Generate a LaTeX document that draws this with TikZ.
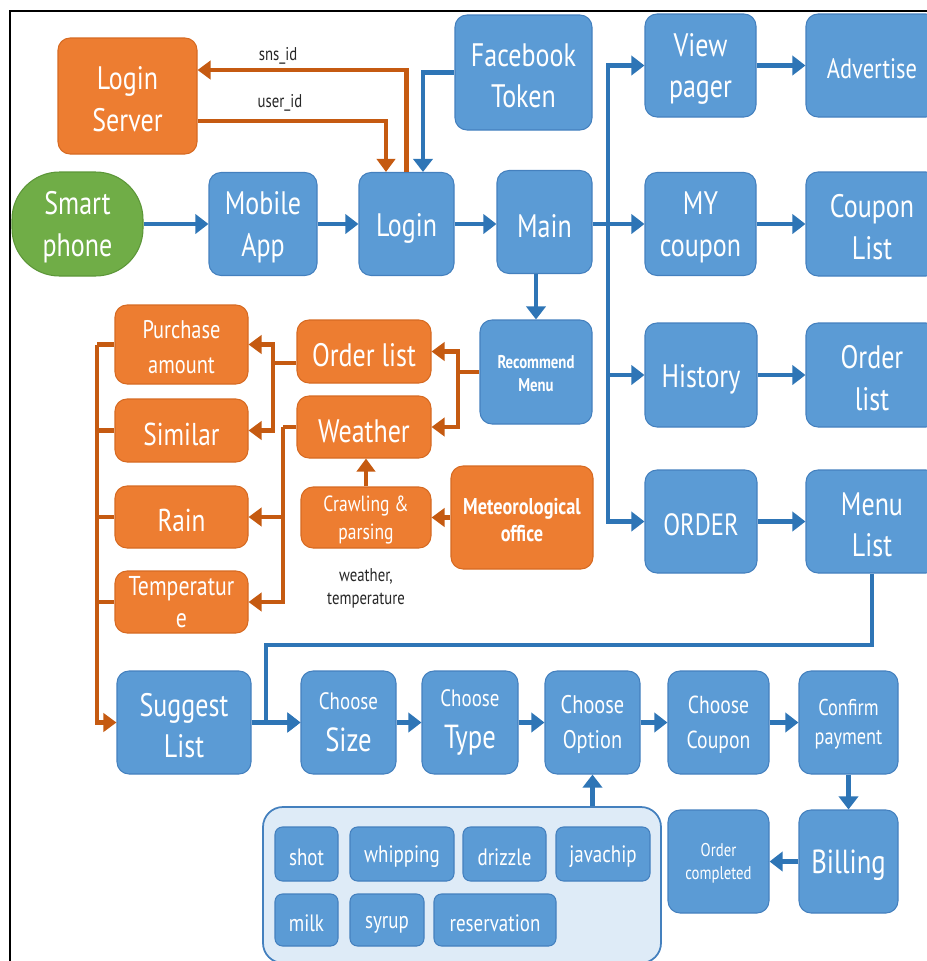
\documentclass[tikz,border=0pt]{standalone}
\usepackage{fontspec}
\setmainfont{PT Sans}[FakeStretch=0.8]
\usepackage{tikz}
\usetikzlibrary{arrows.meta}
\definecolor{boxblue}{RGB}{91,155,213}
\definecolor{edgeblue}{RGB}{68,128,190}
\definecolor{arrowblue}{RGB}{46,117,182}
\definecolor{boxorange}{RGB}{237,125,49}
\definecolor{edgeorange}{RGB}{214,106,34}
\definecolor{arroworange}{RGB}{197,90,17}
\definecolor{boxgreen}{RGB}{112,173,71}
\definecolor{edgegreen}{RGB}{92,150,56}
\definecolor{panel}{RGB}{222,235,247}

\newcommand{\fsL}{\fontsize{18.5}{23.5}\selectfont}
\newcommand{\fsM}{\fontsize{14.5}{20}\selectfont}
\newcommand{\fsS}{\fontsize{12.5}{16}\selectfont}
\newcommand{\fsT}{\fontsize{10.5}{13}\selectfont}

\begin{document}
\begin{tikzpicture}[x=0.02cm, y=-0.02cm,
    sz/.style 2 args={minimum width=#1*0.02cm, minimum height=#2*0.02cm},
    box/.style={rounded corners=0.24cm, draw=edgeblue, line width=0.6pt, fill=boxblue,
        text=white, align=center, inner sep=0pt, font=\fsL,
        execute at begin node={\rule{0pt}{0.95em}}},
    twoline/.style={execute at begin node={\rule{0pt}{\dimexpr0.9em+\baselineskip\relax}}},
    orangebox/.style={box, draw=edgeorange, fill=boxorange},
    chip/.style={box, rounded corners=0.15cm, font=\fontsize{13.5}{16}\selectfont},
    lbl/.style={align=center, font=\fsT, text=black!85},
    bline/.style={draw=arrowblue, line width=2.8pt},
    oline/.style={draw=arroworange, line width=2.5pt},
    barrow/.style={bline, -{Triangle[length=7.5pt, width=11pt]}},
    oarrow/.style={oline, -{Triangle[length=7.5pt, width=10.5pt]}}
]
    \clip (0,0) rectangle (927,961);
    \draw[line width=1.6pt] (10,980) -- (10,11) -- (950,11);

    % login part
    \node[orangebox, twoline, sz={139}{116}] (lserver) at (127.5,96) {Login\\Server};
    \node[box, twoline, draw=edgegreen, fill=boxgreen, rounded corners=0.95cm, sz={131}{104}] (phone) at (77.5,224) {Smart\\phone};
    \node[box, twoline, sz={108}{103}] (mobile) at (263,224) {Mobile\\App};
    \node[box, sz={95}{103}] (login) at (406.5,224) {Login};
    \node[box, twoline, sz={137}{115}] (fb) at (523.5,72.5) {Facebook\\Token};
    \node[box, sz={95}{103}] (main) at (544.5,222) {Main};

    % main menu
    \node[box, twoline, sz={111}{103}] (view) at (700.5,65.5) {View\\pager};
    \node[box, sz={132}{103}, font=\fontsize{16}{20}\selectfont] (adv) at (872,65.5) {Advertise};
    \node[box, twoline, sz={111}{103}] (mycoupon) at (700.5,224) {MY\\coupon};
    \node[box, twoline, sz={132}{104}] (clist) at (872,224) {Coupon\\List};
    \node[box, sz={112}{104}] (history) at (701,375) {History};
    \node[box, twoline, sz={132}{104}] (olistr) at (872,375) {Order\\list};
    \node[box, sz={112}{103}, font=\fontsize{17.5}{22}\selectfont] (order) at (701,521.5) {ORDER};
    \node[box, twoline, sz={132}{103}] (menulist) at (872,521.5) {Menu\\List};

    % recommendation
    \node[box, twoline, sz={112}{104}, font=\fsT\bfseries] (recmenu) at (536,372) {Recommend\\Menu};
    \node[orangebox, sz={134}{63}] (olist) at (364,351.5) {Order list};
    \node[orangebox, sz={134}{62}] (weather) at (364,427) {Weather};
    \node[orangebox, twoline, sz={130}{61}, font=\fsS] (crawl) at (366,517.5) {Crawling \&\\parsing};
    \node[orangebox, twoline, sz={142}{103}, font=\fontsize{13}{15.5}\selectfont\bfseries] (meteo) at (522,517.5) {Meteorological\\office};
    \node[orangebox, twoline, sz={133}{79}, font=\fsM] (purchase) at (181.5,344.5) {Purchase\\amount};
    \node[orangebox, sz={133}{63}, font=\fontsize{18}{22}\selectfont] (similar) at (181.5,430.5) {Similar};
    \node[orangebox, sz={133}{62}, font=\fontsize{18}{22}\selectfont] (rain) at (181.5,517) {Rain};
    \node[orangebox, sz={133}{62}, font=\fontsize{15.5}{18}\selectfont] (temp) at (181.5,602) {Temperatur\\e};
    \node[lbl] (wtlbl) at (366,588) {weather,\\temperature};

    % ordering
    \node[box, twoline, sz={134}{103}] (suggest) at (184,722.5) {Suggest\\List};
    \node[box, sz={95}{103}, font=\fontsize{13.5}{24}\selectfont] (csize) at (348.5,722.5) {Choose\\\fontsize{19}{24}\selectfont Size};
    \node[box, sz={96}{103}, font=\fontsize{13.5}{24}\selectfont] (ctype) at (470,722.5) {Choose\\\fontsize{19}{24}\selectfont Type};
    \node[box, twoline, sz={95}{103}, font=\fontsize{14.5}{20}\selectfont] (copt) at (592.5,722.5) {Choose\\Option};
    \node[box, twoline, sz={101}{103}, font=\fontsize{14}{20}\selectfont] (ccoupon) at (718.5,722.5) {Choose\\Coupon};
    \node[box, twoline, sz={99}{103}, font=\fontsize{13}{16.5}\selectfont] (confirm) at (848.5,722.5) {Confirm\\payment};
    \node[box, sz={99}{103}, font=\fontsize{19}{23}\selectfont] (billing) at (848.5,861.5) {Billing};
    \node[box, twoline, sz={101}{103}, font=\fontsize{10.5}{13}\selectfont] (ocomp) at (718.5,861.5) {Order\\completed};

    % options
    \node[box, fill=panel, line width=1pt, rounded corners=0.4cm, sz={398}{156}] (optbox) at (462,885) {};
    \node[chip, sz={63}{54}] (shot) at (306.5,854) {shot};
    \node[chip, sz={104}{54}] (whip) at (402,854) {whipping};
    \node[chip, sz={83}{54}] (drizzle) at (504.5,854) {drizzle};
    \node[chip, sz={94}{54}] (java) at (603,854) {javachip};
    \node[chip, sz={63}{52}] (milk) at (306.5,920) {milk};
    \node[chip, sz={74}{52}] (syrup) at (387,920) {syrup};
    \node[chip, sz={122}{52}] (resv) at (495,920) {reservation};

    \coordinate (mbus) at (608,224);
    \coordinate (turn) at (266,645);
    \coordinate (rsplit) at (458,372);
    \coordinate (osplit) at (273,363);
    \coordinate (wsplit) at (283,427);
    \coordinate (lbus) at (97,344.5);

    % blue connectors
    \draw[barrow] (phone) -- (mobile);
    \draw[barrow] (mobile) -- (login);
    \draw[barrow] (login) -- (main.west |- login);
    \draw[barrow] (mbus -| main.east) -- (mycoupon);
    \draw[barrow] (mbus) |- (view.west);
    \draw[barrow] (mbus) |- (history.west);
    \draw[barrow] (mbus) |- (order.west);
    \draw[barrow] (view) -- (adv);
    \draw[barrow] (mycoupon) -- (clist);
    \draw[barrow] (history) -- (olistr);
    \draw[barrow] (order) -- (menulist);
    \draw[barrow] (recmenu.north |- main.south) -- (recmenu.north);
    \draw[barrow] (fb.west) -| ([xshift=0.33cm]login.north);
    \draw[barrow] (menulist.south) |- (turn) |- (csize.west);
    \draw[barrow] (suggest) -- (csize);
    \draw[barrow] (csize) -- (ctype);
    \draw[barrow] (ctype) -- (copt);
    \draw[barrow] (copt) -- (ccoupon);
    \draw[barrow] (ccoupon) -- (confirm);
    \draw[barrow] (confirm) -- (billing);
    \draw[barrow] (billing) -- (ocomp);
    \draw[barrow] (copt.south |- optbox.north) -- (copt.south);

    % orange connectors
    \draw[oarrow] (login.north) |- ([yshift=0.52cm]lserver.east);
    \draw[oarrow] ([yshift=-0.5cm]lserver.east) -| ([xshift=-0.41cm]login.north);
    \node[lbl] (snsid) at (278,56) {sns\_id};
    \node[lbl] (userid) at (280,103) {user\_id};
    \draw[oline] (recmenu.west) -- (rsplit);
    \draw[oarrow] (rsplit) |- (olist.east);
    \draw[oarrow] (rsplit) |- (weather.east);
    \draw[oline] (olist.west |- osplit) -- (osplit);
    \draw[oarrow] (osplit) |- (purchase.east);
    \draw[oarrow] (osplit) |- (similar.east);
    \draw[oline] (weather.west) -- (wsplit);
    \draw[oarrow] (wsplit) |- (rain.east);
    \draw[oarrow] (wsplit) |- (temp.east);
    \draw[oarrow] (crawl.north) -- (crawl.north |- weather.south);
    \draw[oarrow] (meteo) -- (crawl);
    \draw[oline] (purchase.west) -- (lbus);
    \draw[oline] (similar.west) -- (similar.west -| lbus);
    \draw[oline] (rain.west) -- (rain.west -| lbus);
    \draw[oline] (temp.west) -- (temp.west -| lbus);
    \draw[oarrow] (lbus) |- (suggest.west);
\end{tikzpicture}
\end{document}
